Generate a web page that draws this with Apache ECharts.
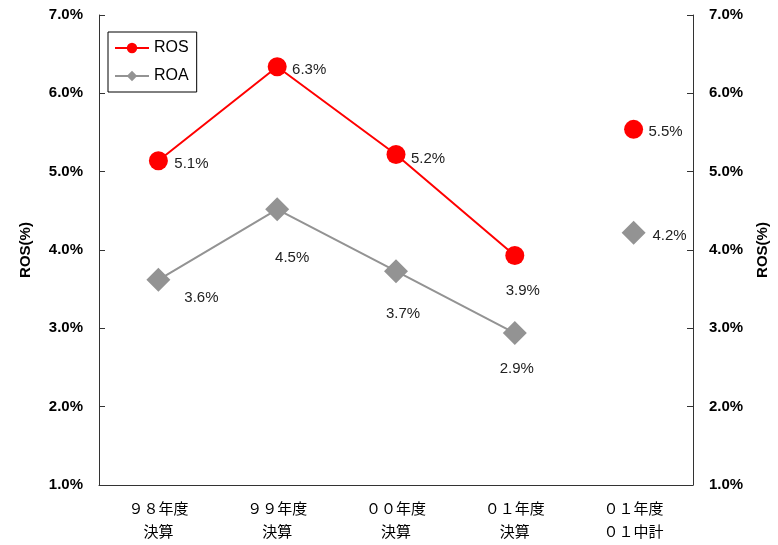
<!DOCTYPE html>
<html>
<head>
<meta charset="utf-8">
<script src="https://cdn.jsdelivr.net/npm/echarts@6/dist/echarts.min.js"></script>
<style>
  body { margin: 0; background: #fff; }
  #main { width: 778px; height: 545px; }
</style>
</head>
<body>
<div id="main"></div>
<script>
  // 年度別 ROS / ROA
  var categories = ['９８年度\n決算', '９９年度\n決算', '００年度\n決算', '０１年度\n決算', '０１年度\n０１中計'];
  var rosValues = [5.14, 6.34, 5.22, 3.93, 5.54];
  var roaValues = [3.62, 4.52, 3.73, 2.94, 4.22];
  var yTicks = [1, 2, 3, 4, 5, 6, 7];

  // ラベル位置（点からのずれ）
  var rosLabelOffset = [[33, 3], [32, 3], [32, 4], [8, 35], [32, 2]];
  var roaLabelOffset = [[43, 18], [15, 49], [7, 43], [2, 36], [36, 3]];

  function items(values, offsets, from, to) {
    return values.map(function (v, i) {
      if (i < from || i > to) return '-';
      return { value: v, label: { offset: offsets[i] } };
    });
  }

  var labelStyle = {
    show: true,
    position: 'inside',
    color: '#222',
    fontFamily: 'Liberation Sans',
    fontSize: 15,
    formatter: function (p) { return p.value.toFixed(1) + '%'; }
  };

  function yAxis(pos) {
    return {
      type: 'value',
      position: pos,
      min: yTicks[0],
      max: yTicks[yTicks.length - 1],
      interval: 1,
      name: 'ROS(%)',
      nameLocation: 'middle',
      nameRotate: 90,
      nameGap: pos === 'left' ? 66 : 62,
      nameTextStyle: { fontFamily: 'Liberation Sans', fontWeight: 'bold', fontSize: 15, color: '#000' },
      axisLine: { show: true, lineStyle: { color: '#333', width: 1 } },
      axisTick: { show: true, inside: true, length: 6, lineStyle: { color: '#333' } },
      axisLabel: {
        margin: 16,
        fontFamily: 'Liberation Sans', fontWeight: 'bold', fontSize: 15, color: '#000',
        formatter: function (v) { return v.toFixed(1) + '%'; }
      },
      splitLine: { show: false }
    };
  }

  var myChart = echarts.init(document.getElementById('main'));
  myChart.setOption({
    animation: false,
    grid: { left: 99, right: 82, top: 15, bottom: 60 },
    legend: {
      orient: 'vertical',
      left: 108,
      top: 32,
      data: ['ROS', 'ROA'],
      borderColor: '#000',
      borderWidth: 1,
      borderRadius: 0,
      padding: [8, 8, 8, 6],
      itemGap: 12,
      itemWidth: 34,
      itemHeight: 13,
      textStyle: { fontFamily: 'Liberation Sans', fontSize: 16, color: '#000' }
    },
    xAxis: {
      type: 'category',
      data: categories,
      boundaryGap: true,
      axisLine: { lineStyle: { color: '#333', width: 1 } },
      axisTick: { inside: true, length: 6, lineStyle: { color: '#333' } },
      axisLabel: {
        margin: 12,
        fontFamily: 'Noto Sans CJK JP', fontSize: 15, color: '#000', lineHeight: 23
      }
    },
    yAxis: [yAxis('left'), yAxis('right')],
    series: [
      {
        name: 'ROS', type: 'line',
        data: items(rosValues, rosLabelOffset, 0, 3),
        symbol: 'circle', symbolSize: 19,
        itemStyle: { color: '#ff0000' },
        lineStyle: { color: '#ff0000', width: 2 },
        label: labelStyle, z: 3
      },
      {
        name: 'ROS', type: 'line',
        data: items(rosValues, rosLabelOffset, 4, 4),
        symbol: 'circle', symbolSize: 19, showSymbol: true,
        itemStyle: { color: '#ff0000' },
        lineStyle: { color: '#ff0000', width: 2 },
        label: labelStyle, z: 3
      },
      {
        name: 'ROA', type: 'line',
        data: items(roaValues, roaLabelOffset, 0, 3),
        symbol: 'diamond', symbolSize: 24,
        itemStyle: { color: '#939393' },
        lineStyle: { color: '#939393', width: 2 },
        label: labelStyle
      },
      {
        name: 'ROA', type: 'line',
        data: items(roaValues, roaLabelOffset, 4, 4),
        symbol: 'diamond', symbolSize: 24, showSymbol: true,
        itemStyle: { color: '#939393' },
        lineStyle: { color: '#939393', width: 2 },
        label: labelStyle
      }
    ]
  });
</script>
</body>
</html>
